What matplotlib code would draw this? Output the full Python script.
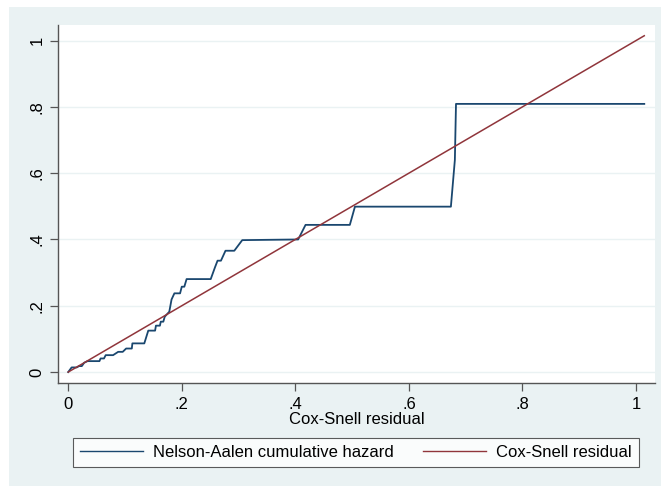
import numpy as np
import matplotlib.pyplot as plt
from matplotlib.patches import Rectangle
from matplotlib.lines import Line2D

plt.rcParams['font.family'] = ['Liberation Sans', 'DejaVu Sans']

# Nelson-Aalen cumulative hazard vs Cox-Snell residual
cs_resid = [0.0, 0.006, 0.015, 0.019, 0.024, 0.028, 0.034, 0.055, 0.057, 0.063,
            0.066, 0.079, 0.088, 0.096, 0.102, 0.112, 0.113, 0.134, 0.141, 0.153,
            0.1545, 0.1615, 0.163, 0.1675, 0.170, 0.178, 0.182, 0.187, 0.197, 0.200,
            0.2045, 0.2085, 0.251, 0.2585, 0.263, 0.269, 0.277, 0.2925, 0.3065, 0.405,
            0.418, 0.496, 0.505, 0.674, 0.681, 0.683, 1.0146]
na_hazard = [0.0, 0.014, 0.014, 0.018, 0.018, 0.028, 0.033, 0.033, 0.041, 0.041,
             0.051, 0.051, 0.061, 0.061, 0.071, 0.071, 0.0865, 0.0865, 0.125, 0.125,
             0.14, 0.14, 0.152, 0.152, 0.167, 0.182, 0.219, 0.2375, 0.2375, 0.2575,
             0.2575, 0.2805, 0.2805, 0.316, 0.336, 0.336, 0.366, 0.366, 0.398, 0.40,
             0.444, 0.444, 0.499, 0.499, 0.64, 0.809, 0.809]
ref_x = [0.0, 1.0146]

xticks = [0, 0.2, 0.4, 0.6, 0.8, 1.0]
xticklabels = ['0', '.2', '.4', '.6', '.8', '1']
yticks = [0, 0.2, 0.4, 0.6, 0.8, 1.0]
yticklabels = ['0', '.2', '.4', '.6', '.8', '1']

W, H = 661, 486
FS = 12
fig = plt.figure(figsize=(W / 100, H / 100), dpi=100)
fig.patch.set_facecolor('white')
bg = '#EAF2F3'
fig.patches.append(Rectangle((9 / W, 0), 1 - 9 / W, 1 - 7 / H,
                             transform=fig.transFigure, facecolor=bg,
                             edgecolor='none', zorder=-10))

ax = fig.add_axes([58 / W, 1 - 383 / H, (655 - 58) / W, (383 - 25) / H])
ax.set_facecolor('white')
ax.plot(cs_resid, na_hazard, color='#1A476F', lw=1.3, zorder=3)
ax.plot(ref_x, ref_x, color='#90353B', lw=1.1, zorder=4)

ax.set_xlim(-0.018, 1.0335)
ax.set_ylim(-0.033, 1.047)
ax.set_xticks(xticks)
ax.set_xticklabels(xticklabels, fontsize=FS)
ax.set_yticks(yticks)
ax.set_yticklabels(yticklabels, fontsize=FS, rotation=90, va='center')
ax.tick_params(axis='y', length=6, width=0.9, color='#555555', pad=3.5)
ax.tick_params(axis='x', length=5.5, width=0.9, color='#555555', pad=4.5)
ax.grid(axis='y', color=bg, lw=1.0)
ax.set_axisbelow(True)
for side in ['top', 'right']:
    ax.spines[side].set_visible(False)
for side in ['left', 'bottom']:
    ax.spines[side].set_color('#555555')
    ax.spines[side].set_linewidth(1.0)
ax.set_xlabel('Cox-Snell residual', fontsize=FS, labelpad=0)

handles = [Line2D([], [], color='#1A476F', lw=1.0),
           Line2D([], [], color='#90353B', lw=1.0)]
leg = fig.legend(handles, ['Nelson-Aalen cumulative hazard', 'Cox-Snell residual'],
                 loc='center', bbox_to_anchor=(356 / W, 1 - 452 / H), ncol=2,
                 fontsize=FS, frameon=True, fancybox=False, handlelength=3.8,
                 columnspacing=1.75, borderpad=0.42, handletextpad=0.6)
leg.get_frame().set_edgecolor('#333333')
leg.get_frame().set_linewidth(0.8)

fig.savefig('out.png', dpi=100)
